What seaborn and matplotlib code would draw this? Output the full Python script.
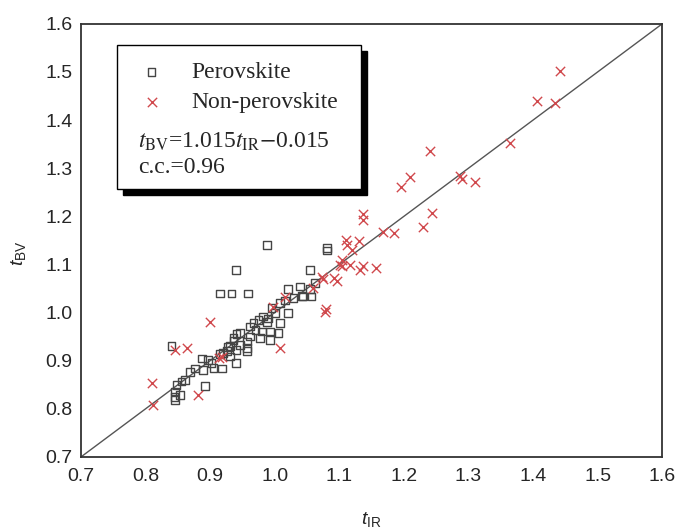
import matplotlib
matplotlib.use("Agg")
import matplotlib.pyplot as plt
import seaborn as sns
from matplotlib.patches import Rectangle

# DATA
perov_ir = [0.840, 0.846, 0.845, 0.853, 0.846, 0.848, 0.856, 0.861, 0.869, 0.877,
            0.889, 0.887, 0.892, 0.897, 0.902, 0.905, 0.918, 0.915, 0.920, 0.926,
            0.928, 0.931, 0.931, 0.936, 0.936, 0.940, 0.941, 0.941, 0.946, 0.946,
            0.957, 0.957, 0.957, 0.962, 0.962, 0.967, 0.970, 0.975, 0.977, 0.980,
            0.982, 0.988, 0.990, 0.993, 0.993, 0.995, 1.000, 1.006, 1.008, 1.008,
            1.016, 1.021, 1.021, 1.029, 1.039, 1.042, 1.044, 1.055, 1.057, 1.062,
            1.055, 1.081, 1.081, 0.915, 0.933, 0.959, 0.940, 0.988]
perov_bv = [0.931, 0.818, 0.825, 0.829, 0.836, 0.850, 0.857, 0.860, 0.877, 0.884,
            0.881, 0.905, 0.848, 0.902, 0.895, 0.885, 0.884, 0.914, 0.916, 0.920,
            0.929, 0.909, 0.931, 0.942, 0.947, 0.895, 0.922, 0.956, 0.933, 0.957,
            0.926, 0.920, 0.940, 0.950, 0.971, 0.978, 0.964, 0.985, 0.947, 0.961,
            0.992, 0.980, 0.988, 0.961, 0.943, 1.009, 0.999, 0.957, 0.978, 1.020,
            1.025, 0.999, 1.049, 1.030, 1.054, 1.035, 1.033, 1.049, 1.033, 1.062,
            1.089, 1.134, 1.129, 1.040, 1.040, 1.040, 1.089, 1.140]

nonp_ir = [1.442, 1.406, 1.434, 1.364, 1.240, 1.209, 1.196, 1.287, 1.290, 1.310,
           1.137, 1.137, 1.243, 1.229, 1.168, 1.184, 1.110, 1.130, 1.112, 1.119,
           1.104, 1.101, 1.104, 1.117, 1.132, 1.137, 1.157, 1.091, 1.096, 1.075,
           1.073, 1.060, 1.016, 1.080, 1.078, 0.998, 1.008, 0.900, 0.846, 0.864,
           0.810, 0.812, 0.882, 0.913, 0.918]
nonp_bv = [1.501, 1.439, 1.435, 1.353, 1.335, 1.281, 1.261, 1.283, 1.277, 1.272,
           1.205, 1.193, 1.207, 1.177, 1.168, 1.165, 1.151, 1.148, 1.141, 1.130,
           1.110, 1.099, 1.096, 1.099, 1.089, 1.096, 1.092, 1.072, 1.065, 1.069,
           1.073, 1.051, 1.032, 1.008, 1.001, 1.011, 0.926, 0.981, 0.922, 0.926,
           0.853, 0.808, 0.829, 0.905, 0.908]

guide = [0.7, 1.6]  # y = x reference line
xticks = [0.7, 0.8, 0.9, 1.0, 1.1, 1.2, 1.3, 1.4, 1.5, 1.6]
yticks = [0.7, 0.8, 0.9, 1.0, 1.1, 1.2, 1.3, 1.4, 1.5, 1.6]

RED = '#d0484c'
GREY = '#454545'

sns.set_style('white')
plt.rcParams['font.family'] = ['Liberation Sans', 'DejaVu Sans']
plt.rcParams['mathtext.fontset'] = 'custom'
plt.rcParams['mathtext.rm'] = 'Liberation Sans'
plt.rcParams['mathtext.it'] = 'Liberation Sans:italic'

fig = plt.figure(figsize=(6.8, 5.28), dpi=100)
ax = fig.add_axes([0.119, 0.1345, 0.855, 0.8205])

ax.plot(guide, guide, color='#555555', lw=1.0, zorder=1)

sns.scatterplot(x=perov_ir, y=perov_bv, marker='s', s=30, facecolor='none',
                edgecolor=GREY, linewidth=1.0, ax=ax, zorder=3, label='Perovskite')
sns.scatterplot(x=nonp_ir, y=nonp_bv, marker='x', s=45, color=RED,
                linewidth=1.0, ax=ax, zorder=3, label='Non-perovskite')

ax.set_xlim(0.7, 1.6)
ax.set_ylim(0.7, 1.6)
ax.set_xticks(xticks)
ax.set_yticks(yticks)
ax.set_xticklabels([f'{v:.1f}' for v in xticks])
ax.set_yticklabels([f'{v:.1f}' for v in yticks])
ax.set_xticks([v + 0.05 for v in xticks[:-1]], minor=True)
ax.set_yticks([v + 0.05 for v in yticks[:-1]], minor=True)
ax.tick_params(which='both', direction='in', top=False, right=False, color='#333333')
ax.tick_params(which='major', length=5, width=1.3, labelsize=14)
ax.tick_params(axis='x', which='major', pad=8)
ax.tick_params(axis='y', which='major', pad=6)
ax.tick_params(which='minor', length=3, width=1.0)
for sp in ax.spines.values():
    sp.set_color('#333333')
    sp.set_linewidth(1.3)

ax.set_xlabel(r'$t_{\mathrm{IR}}$', fontsize=14)
ax.set_ylabel(r'$t_{\mathrm{BV}}$', fontsize=14)
ax.xaxis.set_label_coords(0.5, -0.122)
ax.yaxis.set_label_coords(-0.091, 0.47)

# legend box with shadow
bx, by, bw, bh = 0.0614, 0.619, 0.4206, 0.332
ax.add_patch(Rectangle((bx + 0.0103, by - 0.0139), bw, bh, transform=ax.transAxes,
                       facecolor='black', edgecolor='black', zorder=4))
ax.add_patch(Rectangle((bx, by), bw, bh, transform=ax.transAxes,
                       facecolor='white', edgecolor='black', lw=1.0, zorder=5))

leg = ax.legend(loc='upper left', bbox_to_anchor=(0.081, 0.913), frameon=False,
                borderpad=0, borderaxespad=0, handlelength=2.0, handletextpad=0.7,
                labelspacing=0.35, prop={'family': 'Liberation Serif', 'size': 17})
leg.set_zorder(6)

serif = dict(family='Liberation Serif', fontsize=17, transform=ax.transAxes,
             va='center', ha='left', zorder=7, math_fontfamily='stix')
ax.text(0.098, 0.728, r'$t_{\mathrm{BV}}$=1.015$t_{\mathrm{IR}}$$-$0.015', **serif)
ax.text(0.098, 0.668, 'c.c.=0.96', **serif)

fig.savefig('out.png', dpi=100)
